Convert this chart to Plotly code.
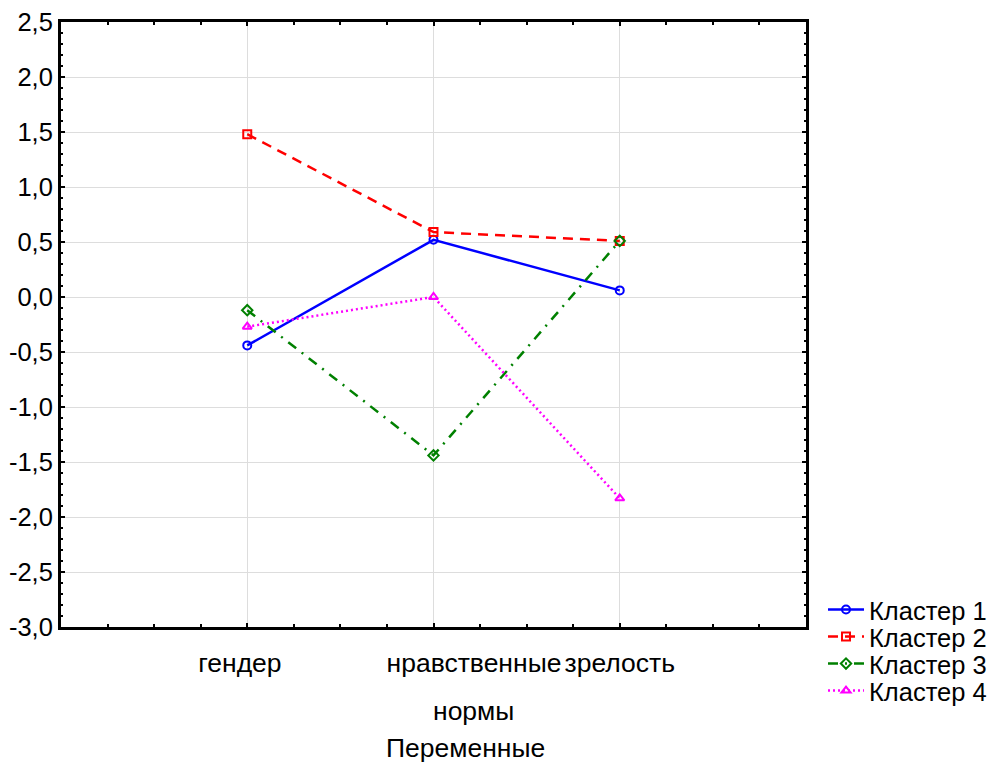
import plotly.graph_objects as go

NB = "\u00a0"
categories = ["гендер", "нравственные", "зрелость"]
cat_pos = [0, 1, 2]
second_line = "нормы"
x_title = "Переменные"
cluster1 = [-0.44, 0.52, 0.06]
cluster2 = [1.48, 0.59, 0.51]
cluster3 = [-0.12, -1.44, 0.51]
cluster4 = [-0.27, 0.00, -1.83]
names = ["Кластер 1", "Кластер 2", "Кластер 3", "Кластер 4"]
y_ticks = [2.5, 2.0, 1.5, 1.0, 0.5, 0.0, -0.5, -1.0, -1.5, -2.0, -2.5, -3.0]
y_labels = ["2,5", "2,0", "1,5", "1,0", "0,5", "0,0", "-0,5", "-1,0", "-1,5", "-2,0", "-2,5", "-3,0"]

styles = [
    ("#0000FF", "solid", "circle-open"),
    ("#FF0000", "10px,7px", "square-open"),
    ("#008000", "10px,7px,2px,7px", "diamond-open"),
    ("#FF00FF", "2px,3px", "triangle-up-open"),
]

W, H = 998, 764
L, T = 61, 22
PW, PH = 745, 605
R = W - L - PW
B = H - T - PH


def paper_y(py):
    return (T + PH - py) / PH


def paper_x(px):
    return (px - L) / PW


legend_rows = [610, 637, 664, 691]

fig = go.Figure()
legend_keys = ["legend", "legend2", "legend3", "legend4"]
for name, vals, (col, dash, sym), lk in zip(names, [cluster1, cluster2, cluster3, cluster4], styles, legend_keys):
    fig.add_trace(go.Scatter(
        x=cat_pos, y=vals, name=name, mode="lines+markers",
        line=dict(color=col, width=2.5, dash=dash),
        marker=dict(symbol=sym, size=8, color=col, line=dict(width=2, color=col)),
        legend=lk,
    ))

font = dict(family="Liberation Sans, Arial, sans-serif", size=26.5, color="black")
ytick_font = dict(family="Liberation Sans, Arial, sans-serif", size=25.5, color="black")
legend_font = dict(family="Liberation Sans, Arial, sans-serif", size=25.5, color="black")

legend_layout = {}
for lk, py in zip(legend_keys, legend_rows):
    legend_layout[lk] = dict(x=paper_x(823), y=paper_y(py), xanchor="left", yanchor="middle",
                             font=legend_font, itemwidth=36, bgcolor="rgba(0,0,0,0)",
                             borderwidth=0)

fig.update_layout(
    width=W, height=H,
    margin=dict(l=L, r=R, t=T, b=B, autoexpand=False),
    paper_bgcolor="white", plot_bgcolor="white",
    font=font,
    showlegend=True,
    **legend_layout,
)

ticktext = [categories[0] + NB * 2, (NB * 11) + categories[1], categories[2]]

fig.update_xaxes(
    range=[-1, 3], tickvals=cat_pos, ticktext=ticktext,
    showgrid=True, gridcolor="#DDDDDD", gridwidth=1,
    showline=True, linecolor="black", linewidth=3, mirror="ticks",
    ticks="inside", ticklen=4, tickwidth=2, tickcolor="black",
    minor=dict(dtick=0.25, tick0=0, ticks="inside", ticklen=3, tickwidth=2, tickcolor="black", showgrid=False),
    zeroline=False, ticklabelstandoff=10, automargin=False,
    tickfont=font,
)
fig.update_yaxes(
    range=[-3, 2.5], tickvals=y_ticks, ticktext=y_labels,
    showgrid=True, gridcolor="#DDDDDD", gridwidth=1,
    showline=True, linecolor="black", linewidth=3, mirror="ticks",
    ticks="inside", ticklen=4, tickwidth=2, tickcolor="black",
    minor=dict(dtick=0.1, tick0=0, ticks="inside", ticklen=2, tickwidth=1.5, tickcolor="black", showgrid=False),
    zeroline=False, ticklabelstandoff=0, automargin=False,
    ticklabeloverflow="allow",
    tickfont=ytick_font,
)

fig.add_annotation(text=second_line, x=1, xref="x", xshift=40,
                   y=paper_y(711), yref="paper", yanchor="middle",
                   showarrow=False, font=font)
fig.add_annotation(text=x_title, x=paper_x(465), xref="paper",
                   y=paper_y(748), yref="paper", yanchor="middle",
                   showarrow=False, font=font)

fig.write_html("out.html", config={"displayModeBar": False},
               post_script="document.body.style.margin='0';")
